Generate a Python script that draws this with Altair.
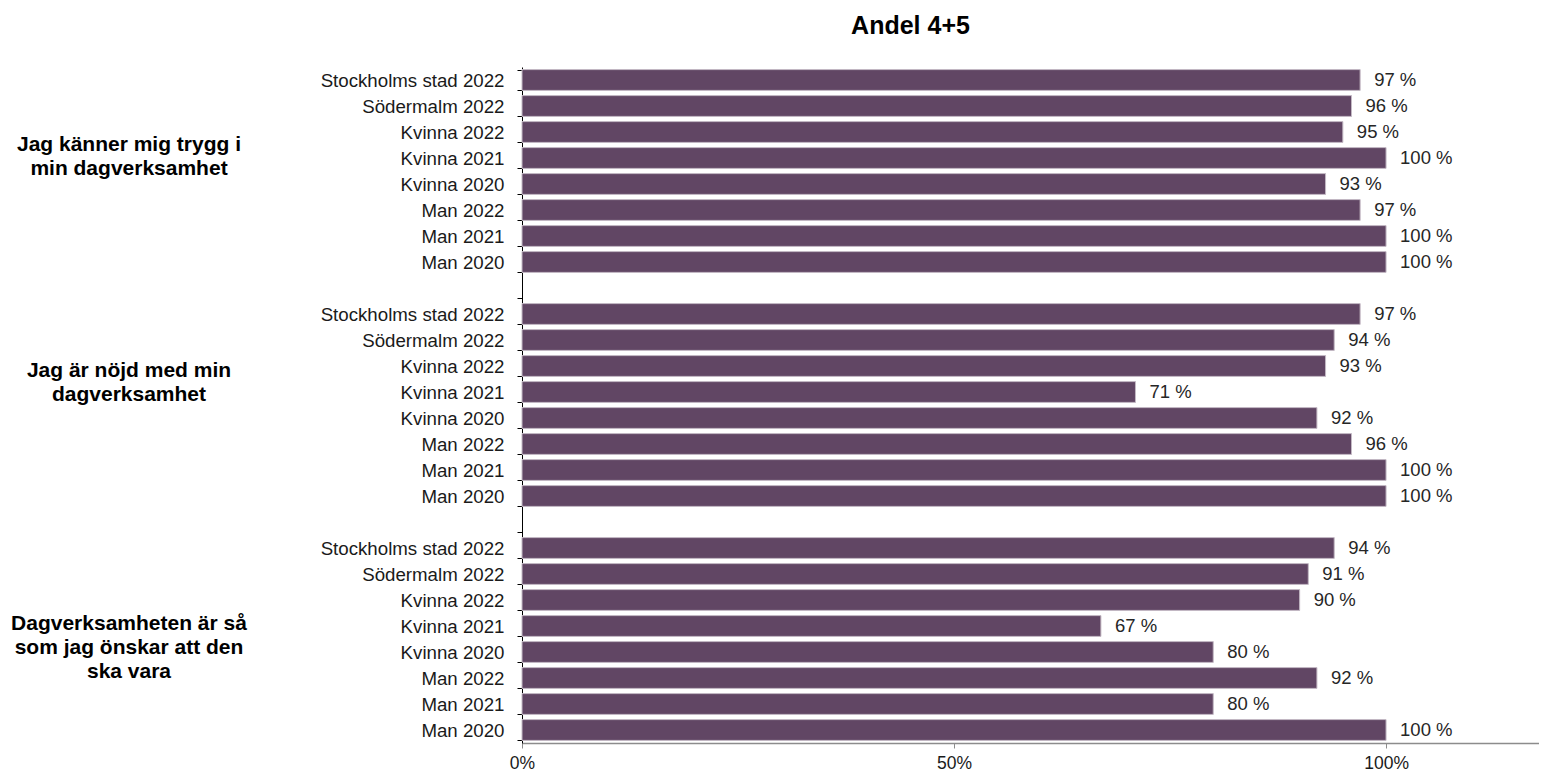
import altair as alt
import pandas as pd

# ---- data ----
questions = [
    "Jag känner mig trygg i\nmin dagverksamhet",
    "Jag är nöjd med min\ndagverksamhet",
    "Dagverksamheten är så\nsom jag önskar att den\nska vara",
]
categories = [
    "Stockholms stad 2022", "Södermalm 2022", "Kvinna 2022", "Kvinna 2021",
    "Kvinna 2020", "Man 2022", "Man 2021", "Man 2020",
]
values_q1 = [97, 96, 95, 100, 93, 97, 100, 100]
values_q2 = [97, 94, 93, 71, 92, 96, 100, 100]
values_q3 = [94, 91, 90, 67, 80, 92, 80, 100]
x_ticks = [0, 0.5, 1.0]
title_text = "Andel 4+5"

all_values = [values_q1, values_q2, values_q3]

# ---- build tables ----
rows = []
domain = []
slot = 0
for qi, vals in enumerate(all_values):
    if qi > 0:
        domain.append(f"{slot:02d}|")
        slot += 1
    for cat, v in zip(categories, vals):
        key = f"{slot:02d}|{cat}"
        domain.append(key)
        rows.append({"key": key, "value": v / 100, "label": f"{v} %"})
        slot += 1
df = pd.DataFrame(rows)

# anchor slot for each question label and fine vertical shift
anchor_slots = [2, 11, 21]
anchor_dy = [13, 5, -2]

yscale = alt.Scale(domain=domain, paddingInner=0.2, paddingOuter=0.1)
xscale = alt.Scale(domain=[0, 1.177], nice=False, zero=True)

y_enc = alt.Y(
    "key:N",
    scale=yscale,
    sort=domain,
    axis=alt.Axis(
        title=None,
        labelExpr="split(datum.value, '|')[1]",
        tickBand="extent",
        tickSize=5,
        tickColor="#000000",
        domainColor="#000000",
        domainWidth=1,
        labelPadding=13,
        labelLimit=400,
        labelFontSize=18.7,
        labelFont="Liberation Sans",
        labelColor="#1a1a1a",
    ),
)

x_enc = alt.X(
    "value:Q",
    scale=xscale,
    axis=alt.Axis(
        title=None,
        values=x_ticks,
        format=".0%",
        grid=False,
        tickSize=5,
        tickColor="#8c8c8c",
        domainColor="#8c8c8c",
        domainWidth=1.5,
        labelFlush=False,
        labelPadding=6,
        labelFontSize=17.5,
        labelFont="Liberation Sans",
        labelColor="#1a1a1a",
    ),
)

bars = alt.Chart(df).mark_bar(
    color="#614664", stroke="#c4bac5", strokeWidth=1
).encode(y=y_enc, x=x_enc)

vlabels = alt.Chart(df).mark_text(
    align="left", baseline="middle", dx=14, fontSize=18.5,
    font="Liberation Sans", color="#262626"
).encode(
    y=alt.Y("key:N", scale=yscale, sort=domain),
    x=alt.X("value:Q", scale=xscale),
    text="label:N",
)

layers = [bars, vlabels]
for qi, q in enumerate(questions):
    qdf = pd.DataFrame([{"key": domain[anchor_slots[qi]], "q": q}])
    layers.append(
        alt.Chart(qdf).mark_text(
            align="center", baseline="middle", fontSize=21, fontWeight="bold",
            font="Liberation Sans", color="#000000", lineBreak="\n",
            lineHeight=24, dy=anchor_dy[qi],
        ).encode(
            y=alt.Y("key:N", scale=yscale, sort=domain),
            x=alt.value(-393),
            text="q:N",
        )
    )

chart = alt.layer(*layers).properties(
    width=1017,
    height=676,
    title=alt.TitleParams(
        title_text, fontSize=25, fontWeight="bold", font="Liberation Sans",
        color="#000000", anchor="middle", dx=-120, offset=19,
    ),
    autosize=alt.AutoSizeParams(type="none"),
    padding={"left": 514, "top": 59, "right": 0, "bottom": 28},
).configure(background="#ffffff").configure_view(stroke=None)

chart.save("out.html", embed_options={"renderer": "svg", "actions": False})
